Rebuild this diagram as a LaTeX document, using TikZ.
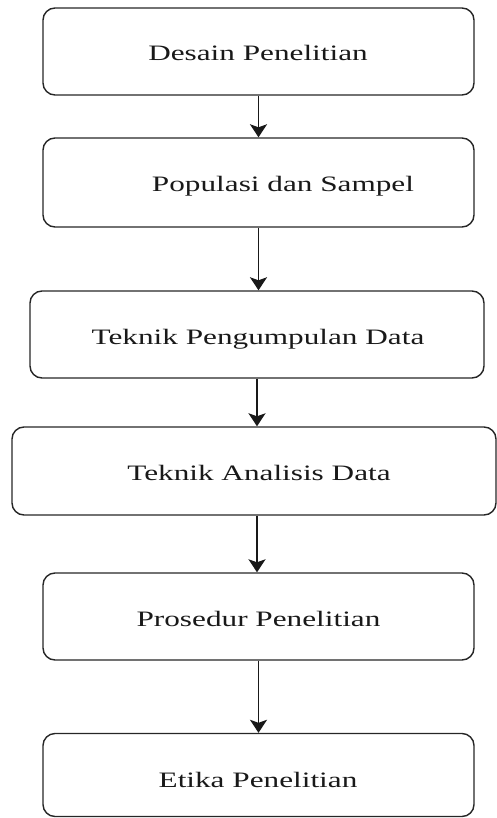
\documentclass[tikz,border=0pt]{standalone}
\usepackage{fontspec}
\setmainfont{Liberation Serif}[FakeStretch=1.42]
\usepackage{tikz}
\usetikzlibrary{arrows.meta}
\tikzset{
  kotak/.style={draw=black!85, line width=1.4pt, rounded corners=12pt, inner sep=0pt},
  teks/.style={anchor=base, inner sep=0pt, font=\fontsize{22}{26}\selectfont, text=black!90},
  panah/.style={draw=black!90, line width=1.9pt, -{Stealth[length=13pt,width=17pt,inset=3pt]}}
}
\newcommand{\langkah}[5]{ \node[kotak, minimum width=#4pt, minimum height=#5pt] (#1) at ( #2 , #3 ){};}

\begin{document}
\begin{tikzpicture}[x=1pt,y=-1pt]
        \useasboundingbox (0,0) rectangle (497,818);
        % boxes
        \langkah{desain}{258.5}{51.5}{431}{87}
        \langkah{populasi}{258.5}{182.5}{431}{89}
        \langkah{pengumpulan}{257}{334.5}{454}{87}
        \langkah{analisis}{254}{471}{484}{88}
        \langkah{prosedur}{258.5}{616.5}{431}{87}
        \langkah{etika}{258.5}{775}{431}{83}

        % text
        \node[teks] (tdesain) at (258,61) {Desain Penelitian};
        \node[teks] (tpopulasi) at (283,192) {Populasi dan Sampel};
        \node[teks] (tpengumpulan) at (258,344) {Teknik Pengumpulan Data};
        \node[teks] (tanalisis) at (259,480) {Teknik Analisis Data};
        \node[teks] (tprosedur) at (258.5,626) {Prosedur Penelitian};
        \node[teks] (tetika) at (258,787) {Etika Penelitian};

        % arrows
        \draw[panah] (desain.south) -- (populasi.north);
        \draw[panah] (populasi.south) -- (populasi.south |- pengumpulan.north);
        \draw[panah] (pengumpulan.south) -- (pengumpulan.south |- analisis.north);
        \draw[panah] (pengumpulan.south |- analisis.south) -- (pengumpulan.south |- prosedur.north);
        \draw[panah] (prosedur.south) -- (etika.north);
    \end{tikzpicture}
\end{document}
